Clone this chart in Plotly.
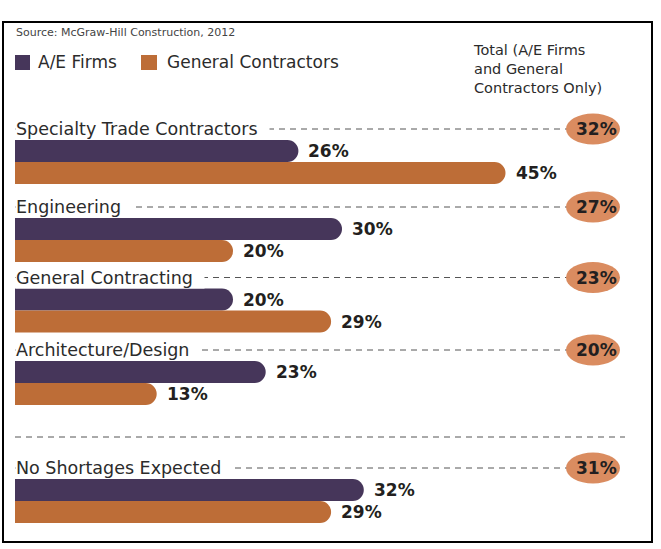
import plotly.graph_objects as go

# ---- data ----
categories = ["Specialty Trade Contractors", "Engineering", "General Contracting",
              "Architecture/Design", "No Shortages Expected"]
ae_firms = [26, 30, 20, 23, 32]
general_contractors = [45, 20, 29, 13, 29]
totals = [32, 27, 23, 20, 31]
series_names = ["A/E Firms", "General Contractors"]
source_text = "Source: McGraw-Hill Construction, 2012"
total_header = ["Total (A/E Firms", "and General", "Contractors Only)"]

# ---- layout constants (pixels) ----
W, H = 661, 549
PX_PER_PCT = 10.9
LEFT = 15
group_mid = [162, 240, 310.5, 383, 501]   # boundary between the two bars of each group
BAR_H = 22
LABEL_OFFSET = -33
CIRCLE_X = 593

PURPLE = "#46365A"
ORANGE = "#BD6D37"
CIRCLE = "#DA8C60"
DARK = "#231F20"
TEXT = "#2b2b2b"
FONT = "DejaVu Sans"

def px(x):
    return x / W

def py(y):
    return 1 - y / H

fig = go.Figure()
fig.add_trace(go.Bar(
    y=[g - BAR_H / 2 for g in group_mid], x=ae_firms, orientation="h",
    width=BAR_H, marker=dict(color=PURPLE, line=dict(width=0), cornerradius=11),
    name=series_names[0], showlegend=False, hoverinfo="x"))
fig.add_trace(go.Bar(
    y=[g + BAR_H / 2 for g in group_mid], x=general_contractors, orientation="h",
    width=BAR_H, marker=dict(color=ORANGE, line=dict(width=0), cornerradius=11),
    name=series_names[1], showlegend=False, hoverinfo="x"))

shapes = []
annotations = []

for i, cat in enumerate(categories):
    ly = group_mid[i] + LABEL_OFFSET
    # dashed leader line
    shapes.append(dict(type="line", xref="paper", yref="y",
                       x0=px(LEFT), x1=px(CIRCLE_X), y0=ly, y1=ly,
                       line=dict(color="#555555", width=1, dash="6px,5px")))
    # total ellipse
    shapes.append(dict(type="circle", xref="paper", yref="y",
                       xsizemode="pixel", ysizemode="pixel",
                       xanchor=px(CIRCLE_X), yanchor=ly,
                       x0=-27, x1=27, y0=-15.5, y1=15.5,
                       fillcolor=CIRCLE, line=dict(width=0)))
    # category label with white background hiding the dashes
    annotations.append(dict(xref="x", yref="y", x=0, y=ly, xanchor="left", yanchor="middle",
                            text=cat + "\u00a0\u00a0", showarrow=False, bgcolor="white",
                            borderpad=0, font=dict(family=FONT, size=17.5, color=TEXT)))
    # total value
    annotations.append(dict(xref="paper", yref="y", x=px(CIRCLE_X + 3), y=ly,
                            xanchor="center", yanchor="middle", text=f"{totals[i]}%",
                            showarrow=False,
                            font=dict(family=FONT, size=17, color=DARK, weight="bold")))
    # bar value labels
    for vals, off in ((ae_firms, -BAR_H / 2), (general_contractors, BAR_H / 2)):
        annotations.append(dict(xref="x", yref="y", x=vals[i], y=group_mid[i] + off,
                                xanchor="left", yanchor="middle", xshift=8,
                                text=f"{vals[i]}%", showarrow=False,
                                font=dict(family=FONT, size=17, color=DARK, weight="bold")))

# separator
shapes.append(dict(type="line", xref="paper", yref="paper",
                   x0=px(LEFT), x1=px(625), y0=py(437), y1=py(437),
                   line=dict(color="#555555", width=1, dash="6px,5px")))
# frame
shapes.append(dict(type="rect", xref="paper", yref="paper",
                   x0=px(3), x1=px(652), y0=py(542), y1=py(22),
                   line=dict(color="black", width=2), fillcolor="rgba(0,0,0,0)"))
# legend swatches
shapes.append(dict(type="rect", xref="paper", yref="paper",
                   x0=px(15), x1=px(30), y0=py(70), y1=py(55),
                   fillcolor=PURPLE, line=dict(width=0)))
shapes.append(dict(type="rect", xref="paper", yref="paper",
                   x0=px(141), x1=px(157), y0=py(70), y1=py(55),
                   fillcolor=ORANGE, line=dict(width=0)))

annotations.append(dict(xref="paper", yref="paper", x=px(36), y=py(62.5),
                        xanchor="left", yanchor="middle", text=series_names[0],
                        showarrow=False, font=dict(family=FONT, size=17, color=TEXT)))
annotations.append(dict(xref="paper", yref="paper", x=px(165), y=py(62.5),
                        xanchor="left", yanchor="middle", text=series_names[1],
                        showarrow=False, font=dict(family=FONT, size=17, color=TEXT)))
annotations.append(dict(xref="paper", yref="paper", x=px(14), y=py(33),
                        xanchor="left", yanchor="middle", text=source_text,
                        showarrow=False, font=dict(family=FONT, size=11, color="#444444")))
annotations.append(dict(xref="paper", yref="paper", x=px(471), y=py(69),
                        xanchor="left", yanchor="middle", align="left",
                        text="<br>".join(total_header),
                        showarrow=False, font=dict(family=FONT, size=14.5, color=TEXT)))

fig.update_layout(
    width=W, height=H,
    margin=dict(l=0, r=0, t=0, b=0),
    paper_bgcolor="white", plot_bgcolor="white",
    xaxis=dict(range=[-LEFT / PX_PER_PCT, (W - LEFT) / PX_PER_PCT], visible=False,
               fixedrange=True),
    yaxis=dict(range=[H, 0], visible=False, fixedrange=True),
    barmode="overlay",
    shapes=shapes,
    annotations=annotations,
)

fig.write_html("out.html", config={"displayModeBar": False},
               post_script="document.body.style.margin='0';document.body.style.overflow='hidden';")
